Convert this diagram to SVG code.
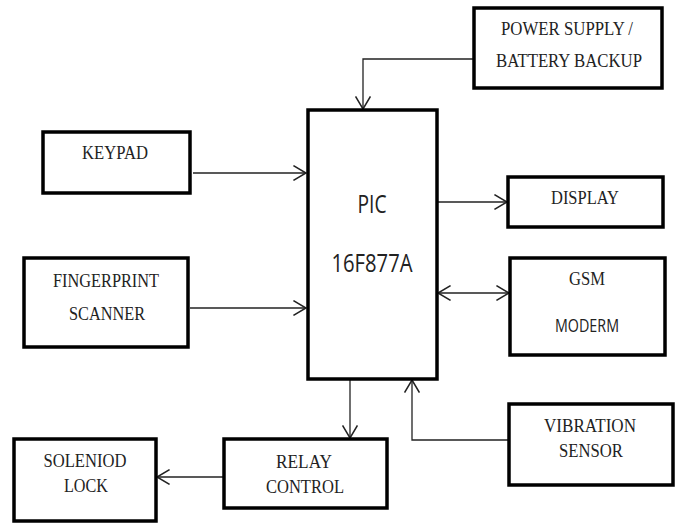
<svg xmlns="http://www.w3.org/2000/svg" width="676" height="523" viewBox="0 0 676 523">
<style>
.box{fill:#fff;stroke:#000;stroke-width:3.5}
.t{font-family:"Liberation Serif",serif;font-size:19px;fill:#222;text-anchor:middle}
.s{font-family:"Open Sans","Liberation Sans",sans-serif;fill:#222;text-anchor:middle}
.c{fill:none;stroke:#222;stroke-width:1.3}
</style>
<defs>
<marker id="ah" markerUnits="userSpaceOnUse" markerWidth="16" markerHeight="16" refX="12" refY="7" orient="auto-start-reverse" viewBox="0 0 14 14">
<path d="M1,0.5 L12,7 L1,13.5" fill="none" stroke="#222" stroke-width="1.3"/>
</marker>
</defs>
<rect width="676" height="523" fill="#fff"/>
<g id="connectors">
<path class="c" d="M474,59 H363 V109" marker-end="url(#ah)"/>
<path class="c" d="M193,173 H306" marker-end="url(#ah)"/>
<path class="c" d="M190,308 H306" marker-end="url(#ah)"/>
<path class="c" d="M437,202 H507" marker-end="url(#ah)"/>
<path class="c" d="M438,293 H509" marker-start="url(#ah)" marker-end="url(#ah)"/>
<path class="c" d="M350,379 V438" marker-end="url(#ah)"/>
<path class="c" d="M509,440 H412 V380" marker-end="url(#ah)"/>
<path class="c" d="M224,477 H157" marker-end="url(#ah)"/>
</g>
<g id="power">
<rect class="box" x="474" y="8" width="188" height="80"/>
<text class="t" x="567" y="35" textLength="132" lengthAdjust="spacingAndGlyphs">POWER SUPPLY /</text>
<text class="t" x="569" y="67" textLength="146" lengthAdjust="spacingAndGlyphs">BATTERY BACKUP</text>
</g>
<g id="pic">
<rect class="box" x="308" y="110" width="129" height="269"/>
<text class="s" x="372" y="213" font-size="25" textLength="29" lengthAdjust="spacingAndGlyphs">PIC</text>
<text class="s" x="372" y="272" font-size="25" textLength="81" lengthAdjust="spacingAndGlyphs">16F877A</text>
</g>
<g id="keypad">
<rect class="box" x="43" y="132" width="147" height="61"/>
<text class="t" x="115" y="159" textLength="66" lengthAdjust="spacingAndGlyphs">KEYPAD</text>
</g>
<g id="fingerprint">
<rect class="box" x="24" y="258" width="164" height="89"/>
<text class="t" x="106" y="287" textLength="106" lengthAdjust="spacingAndGlyphs">FINGERPRINT</text>
<text class="t" x="107" y="320" textLength="76" lengthAdjust="spacingAndGlyphs">SCANNER</text>
</g>
<g id="display">
<rect class="box" x="508" y="177" width="155" height="50"/>
<text class="t" x="585" y="204" textLength="68" lengthAdjust="spacingAndGlyphs">DISPLAY</text>
</g>
<g id="gsm">
<rect class="box" x="510" y="258" width="155" height="97"/>
<text class="t" x="587" y="285" textLength="36" lengthAdjust="spacingAndGlyphs">GSM</text>
<text class="s" x="587" y="332" font-size="18" textLength="64" lengthAdjust="spacingAndGlyphs">MODERM</text>
</g>
<g id="vibration">
<rect class="box" x="509" y="404" width="164" height="81"/>
<text class="t" x="590" y="432" textLength="92" lengthAdjust="spacingAndGlyphs">VIBRATION</text>
<text class="t" x="591" y="457" textLength="64" lengthAdjust="spacingAndGlyphs">SENSOR</text>
</g>
<g id="relay">
<rect class="box" x="224" y="439" width="163" height="69"/>
<text class="t" x="304" y="468" textLength="56" lengthAdjust="spacingAndGlyphs">RELAY</text>
<text class="t" x="305" y="493" textLength="78" lengthAdjust="spacingAndGlyphs">CONTROL</text>
</g>
<g id="solenoid">
<rect class="box" x="14" y="439" width="142" height="82"/>
<text class="t" x="85" y="467" textLength="83" lengthAdjust="spacingAndGlyphs">SOLENIOD</text>
<text class="t" x="86" y="492" textLength="44" lengthAdjust="spacingAndGlyphs">LOCK</text>
</g>
</svg>
